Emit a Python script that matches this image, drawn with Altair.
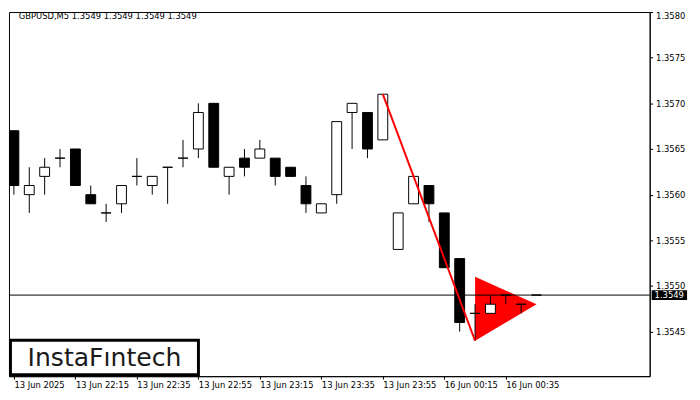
import altair as alt
import pandas as pd

# ---- data ----
candle_idx = list(range(35))
opens  = [1.3567, 1.3560, 1.3562, 1.3564, 1.3565, 1.3560, 1.3558, 1.3559, 1.3562, 1.3561,
          1.3563, 1.3564, 1.3565, 1.3570, 1.3562, 1.3564, 1.3564, 1.3564, 1.3563, 1.3561,
          1.3558, 1.3560, 1.3569, 1.3569, 1.3566, 1.3554, 1.3559, 1.3561, 1.3558, 1.3553,
          1.3547, 1.3547, 1.3549, 1.3548, 1.3549]
highs  = [1.3567, 1.3563, 1.3564, 1.3565, 1.3565, 1.3561, 1.3559, 1.3561, 1.3564, 1.3562,
          1.3563, 1.3566, 1.3570, 1.3570, 1.3563, 1.3565, 1.3566, 1.3564, 1.3563, 1.3562,
          1.3559, 1.3568, 1.3570, 1.3569, 1.3571, 1.3558, 1.3562, 1.3561, 1.3558, 1.3553,
          1.3548, 1.3549, 1.3549, 1.3548, 1.3549]
lows   = [1.3560, 1.3558, 1.3560, 1.3563, 1.3561, 1.3559, 1.3557, 1.3558, 1.3561, 1.3560,
          1.3559, 1.3563, 1.3564, 1.3563, 1.3560, 1.3562, 1.3564, 1.3561, 1.3562, 1.3558,
          1.3558, 1.3559, 1.3565, 1.3564, 1.3566, 1.3554, 1.3559, 1.3557, 1.3552, 1.3545,
          1.3544, 1.3547, 1.3548, 1.3547, 1.3549]
closes = [1.3561, 1.3561, 1.3563, 1.3564, 1.3561, 1.3559, 1.3558, 1.3561, 1.3562, 1.3562,
          1.3563, 1.3564, 1.3569, 1.3563, 1.3563, 1.3563, 1.3565, 1.3562, 1.3562, 1.3559,
          1.3559, 1.3568, 1.3570, 1.3565, 1.3571, 1.3558, 1.3562, 1.3559, 1.3552, 1.3546,
          1.3547, 1.3548, 1.3549, 1.3548, 1.3549]

x_tick_pos = [0, 4, 8, 12, 16, 20, 24, 28, 32]
x_tick_labels = ["13 Jun 2025", "13 Jun 22:15", "13 Jun 22:35", "13 Jun 22:55",
                 "13 Jun 23:15", "13 Jun 23:35", "13 Jun 23:55", "16 Jun 00:15",
                 "16 Jun 00:35"]
y_ticks = [1.3545, 1.3550, 1.3555, 1.3560, 1.3565, 1.3570, 1.3575, 1.3580]

current_price = [1.3549]
title_text = "GBPUSD,M5  1.3549 1.3549 1.3549 1.3549"

trend_idx = [24, 30]
trend_val = [1.3571, 1.3544]

tri_idx = [30, 34]
tri_low = [1.3544, 1.3548]
tri_high = [1.3551, 1.3548]

brand = "InstaFıntech"

# ---- chart ----
FONT = "DejaVu Sans"
FS = 8.5

df = pd.DataFrame({"k": candle_idx, "open": opens, "high": highs,
                   "low": lows, "close": closes})
trend_df = pd.DataFrame({"k": trend_idx, "v": trend_val})
tri_df = pd.DataFrame({"k": tri_idx, "lo": tri_low, "hi": tri_high})
price_df = pd.DataFrame({"p": current_price, "t": [f"{current_price[0]:.4f}"]})
one = pd.DataFrame({"a": [0]})

xs = alt.Scale(domain=[0, 41.04], nice=False, zero=False)
ys = alt.Scale(domain=[1.354012, 1.3580], nice=False, zero=False)

label_expr = (str(x_tick_labels) + "[indexof(" + str(x_tick_pos) + ", datum.value)]")
x_axis = alt.Axis(values=x_tick_pos, labelExpr=label_expr, labelAlign="left",
                  labelFlush=False, labelOverlap=False, tickSize=3, labelPadding=2,
                  title=None, grid=False)
y_axis = alt.Axis(orient="right", values=y_ticks, format=".4f", tickSize=3,
                  labelPadding=3, title=None, grid=False, labelFlush=1,
                  labelOverlap=False)

base = alt.Chart(df)

triangle = alt.Chart(tri_df).mark_area(color="#ff0000", opacity=1, clip=True).encode(
    x=alt.X("k:Q", scale=xs, axis=x_axis),
    y=alt.Y("lo:Q", scale=ys, axis=y_axis),
    y2="hi:Q",
)

wicks = base.mark_rule(color="black", strokeWidth=1, clip=True).encode(
    x="k:Q", y="low:Q", y2="high:Q")

bodies = base.mark_bar(size=10, stroke="black", strokeWidth=1, clip=True).encode(
    x="k:Q", y="open:Q", y2="close:Q",
    fill=alt.condition(alt.datum.close >= alt.datum.open,
                       alt.value("white"), alt.value("black")),
)

price_line = alt.Chart(price_df).mark_rule(color="black", strokeWidth=1).encode(
    y="p:Q")

trend = alt.Chart(trend_df).mark_line(color="#ff0000", strokeWidth=2, clip=True).encode(
    x="k:Q", y="v:Q")

price_box = alt.Chart(price_df).mark_rule(color="black", strokeWidth=10,
                                          strokeCap="butt", clip=False).encode(
    x=alt.value(653), x2=alt.value(689), y="p:Q")
price_txt = alt.Chart(price_df).mark_text(color="white", align="left", baseline="middle",
                                          font=FONT, fontSize=FS, clip=False).encode(
    x=alt.value(656), y="p:Q", text="t:N")

title = alt.Chart(one).mark_text(align="left", baseline="middle", font=FONT,
                                 fontSize=FS, color="black").encode(
    x=alt.value(10), y=alt.value(4.5), text=alt.value(title_text))

logo_box = alt.Chart(one).mark_rect(fill="white", stroke="black", strokeWidth=3).encode(
    x=alt.value(1.5), x2=alt.value(192.5), y=alt.value(333.5), y2=alt.value(368.5))
logo_txt = alt.Chart(one).mark_text(align="center", baseline="middle", font="DejaVu Sans",
                                    fontSize=25.5, color="#1a1a1a").encode(
    x=alt.value(97), y=alt.value(352), text=alt.value(brand))

chart = alt.layer(triangle, wicks, bodies, price_line, trend, title,
                  logo_box, logo_txt, price_box, price_txt).properties(
    width=651, height=370, padding=0, background="white"
).configure_view(stroke="black", strokeWidth=1).configure_axis(
    domainColor="black", tickColor="black", labelColor="black",
    labelFont=FONT, labelFontSize=FS, grid=False
)

chart.save("out.html", embed_options={"renderer": "svg", "actions": False})
